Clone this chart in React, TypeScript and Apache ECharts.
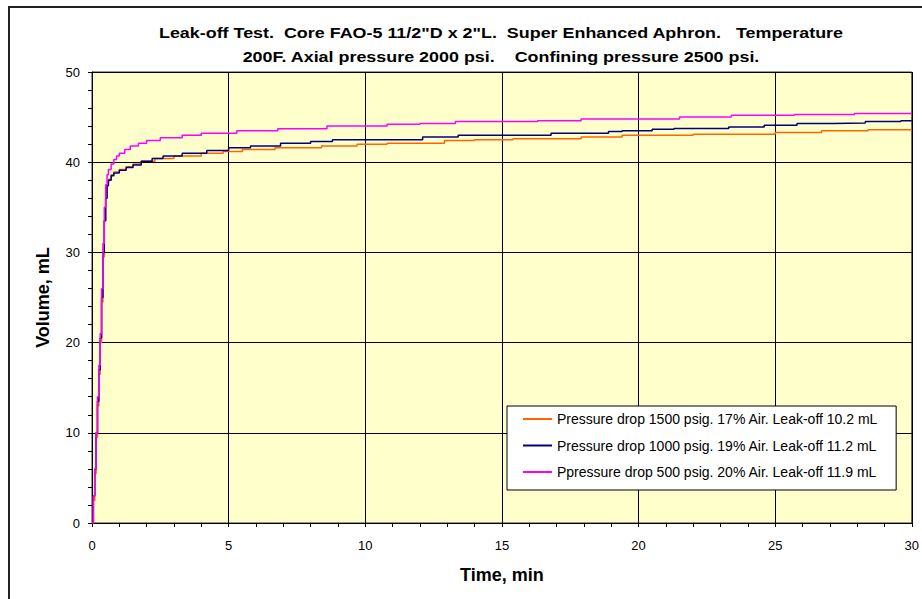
import React, { useEffect, useRef } from "react";
import * as echarts from "echarts";

const titleLines = [
  'Leak-off Test.  Core FAO-5 11/2"D x 2"L.  Super Enhanced Aphron.   Temperature',
  "200F. Axial pressure 2000 psi.    Confining pressure 2500 psi.",
];
const seriesNames = [
  "Pressure drop 1500 psig. 17% Air. Leak-off 10.2 mL",
  "Pressure drop 1000 psig. 19% Air. Leak-off 11.2 mL",
  "Ppressure drop 500 psig. 20% Air. Leak-off 11.9 mL",
];
const seriesColors = ["#FF6600", "#000080", "#FF00FF"];

const orangeTime = [0, 0.05, 0.1, 0.15, 0.2, 0.25, 0.3, 0.35, 0.4, 0.45, 0.5, 0.55, 0.6, 0.7, 0.8, 1.0, 1.25, 1.5, 1.8, 2.3, 3.0, 4.0, 4.8, 5.5, 6.7, 8.4, 9.7, 10.8, 12.9, 14.0, 15.4, 17.9, 19.4, 22.0, 25.0, 26.7, 28.4, 30];
const orangeVol = [0, 2.5, 5.5, 9.5, 13, 16.5, 20, 24.5, 29.5, 33.5, 36, 37.5, 38.1, 38.6, 38.9, 39.2, 39.5, 39.8, 40.1, 40.4, 40.7, 41.0, 41.2, 41.4, 41.6, 41.8, 42.0, 42.1, 42.4, 42.5, 42.6, 42.8, 43.0, 43.1, 43.3, 43.5, 43.6, 43.6];

const navyTime = [0, 0.05, 0.1, 0.15, 0.2, 0.25, 0.3, 0.35, 0.4, 0.45, 0.5, 0.55, 0.6, 0.7, 0.8, 1.0, 1.25, 1.5, 1.8, 2.2, 2.6, 3.3, 4.2, 5.0, 5.8, 6.9, 8.0, 8.8, 12.1, 13.4, 16.8, 18.9, 19.4, 20.5, 21.3, 23.3, 24.6, 25.8, 27.1, 28.3, 29.6, 30];
const navyVol = [0, 3, 6, 10, 13.5, 17, 20.5, 25, 30, 33.5, 36, 37.4, 38.0, 38.5, 38.8, 39.1, 39.4, 39.7, 40.1, 40.4, 40.7, 41.0, 41.3, 41.6, 41.8, 42.1, 42.3, 42.5, 42.8, 43.0, 43.2, 43.4, 43.5, 43.65, 43.75, 43.9, 44.1, 44.3, 44.35, 44.5, 44.6, 44.6];

const magentaTime = [0, 0.05, 0.1, 0.15, 0.2, 0.25, 0.3, 0.35, 0.4, 0.45, 0.5, 0.55, 0.6, 0.7, 0.8, 0.9, 1.0, 1.2, 1.4, 1.7, 2.0, 2.5, 3.3, 4.0, 5.3, 6.8, 8.6, 10.8, 12.0, 13.3, 16.3, 17.9, 21.5, 23.4, 25.7, 27.9, 30];
const magentaVol = [0, 3, 6, 10, 14, 17.5, 21, 26, 31, 35, 37.5, 38.6, 39.2, 39.8, 40.3, 40.7, 41.0, 41.4, 41.8, 42.1, 42.4, 42.7, 43.0, 43.2, 43.5, 43.7, 44.0, 44.2, 44.3, 44.5, 44.6, 44.8, 45.0, 45.2, 45.3, 45.4, 45.4];

const xTicks = { min: 0, max: 30, interval: 5 };
const yTicks = { min: 0, max: 50, interval: 10 };

const zip = (t: number[], v: number[]) => t.map((x, i) => [x, v[i]]);

export default function App() {
  const ref = useRef<HTMLDivElement>(null);
  useEffect(() => {
    if (!ref.current) return;
    const chart = echarts.init(ref.current, null, { renderer: "svg" });
    const font = "Liberation Sans, Arial, sans-serif";
    const dataSets = [zip(orangeTime, orangeVol), zip(navyTime, navyVol), zip(magentaTime, magentaVol)];
    chart.setOption({
      animation: false,
      backgroundColor: "#ffffff",
      textStyle: { fontFamily: font },
      graphic: [
        {
          type: "rect",
          shape: { x: 9, y: 7, width: 1000, height: 700 },
          style: { fill: "none", stroke: "#222", lineWidth: 2 },
          silent: true,
        },
        {
          type: "text",
          x: 501,
          y: 33,
          scaleX: 1.28,
          style: {
            text: titleLines[0],
            font: "bold 14px " + font,
            fill: "#000",
            align: "center",
            verticalAlign: "middle",
          },
        },
        {
          type: "text",
          x: 501,
          y: 57,
          scaleX: 1.28,
          style: {
            text: titleLines[1],
            font: "bold 14px " + font,
            fill: "#000",
            align: "center",
            verticalAlign: "middle",
          },
        },
      ],
      grid: {
        left: 92,
        top: 72,
        right: 8,
        bottom: 76,
        show: true,
        backgroundColor: "#FFFFCC",
        borderColor: "#333",
        borderWidth: 1,
      },
      legend: {
        orient: "vertical",
        left: 507,
        top: 406,
        padding: [6, 18, 11, 16],
        itemGap: 12.5,
        itemWidth: 29,
        itemHeight: 14,
        icon: "path://M0,0 L29,0 L29,2 L0,2 Z",
        backgroundColor: "#ffffff",
        borderColor: "#000",
        borderWidth: 1,
        borderRadius: 0,
        textStyle: { fontSize: 14, lineHeight: 14, color: "#000", fontFamily: font },
        data: seriesNames,
      },
      xAxis: {
        type: "value",
        min: xTicks.min,
        max: xTicks.max,
        interval: xTicks.interval,
        name: "Time, min",
        nameLocation: "middle",
        nameGap: 43,
        nameTextStyle: { fontWeight: "bold", fontSize: 18, color: "#000", fontFamily: font },
        axisLine: { show: true, lineStyle: { color: "#000", width: 1 } },
        axisTick: { show: true, length: 4, inside: false, lineStyle: { color: "#000" } },
        minorTick: { show: true, splitNumber: 5, length: 4, lineStyle: { color: "#000" } },
        axisLabel: { fontSize: 13, color: "#000", margin: 16, fontFamily: font },
        splitLine: { show: true, lineStyle: { color: "#000", width: 1 } },
      },
      yAxis: {
        type: "value",
        min: yTicks.min,
        max: yTicks.max,
        interval: yTicks.interval,
        name: "Volume, mL",
        nameLocation: "middle",
        nameGap: 40,
        nameTextStyle: { fontWeight: "bold", fontSize: 18, color: "#000", fontFamily: font },
        axisLine: { show: true, lineStyle: { color: "#000", width: 1 } },
        axisTick: { show: true, length: 4, inside: false, lineStyle: { color: "#000" } },
        minorTick: { show: true, splitNumber: 5, length: 4, lineStyle: { color: "#000" } },
        axisLabel: { fontSize: 13, color: "#000", margin: 12, fontFamily: font },
        splitLine: { show: true, lineStyle: { color: "#000", width: 1 } },
      },
      series: seriesNames.map((name, i) => ({
        name,
        type: "line",
        step: "end",
        showSymbol: false,
        symbol: "none",
        data: dataSets[i],
        lineStyle: { color: seriesColors[i], width: 1.5 },
        itemStyle: { color: seriesColors[i] },
        z: 2 + i,
      })),
    });
    return () => chart.dispose();
  }, []);
  return (
    <div
      ref={ref}
      style={{ position: "absolute", left: 0, top: 0, width: 922, height: 599 }}
    />
  );
}
